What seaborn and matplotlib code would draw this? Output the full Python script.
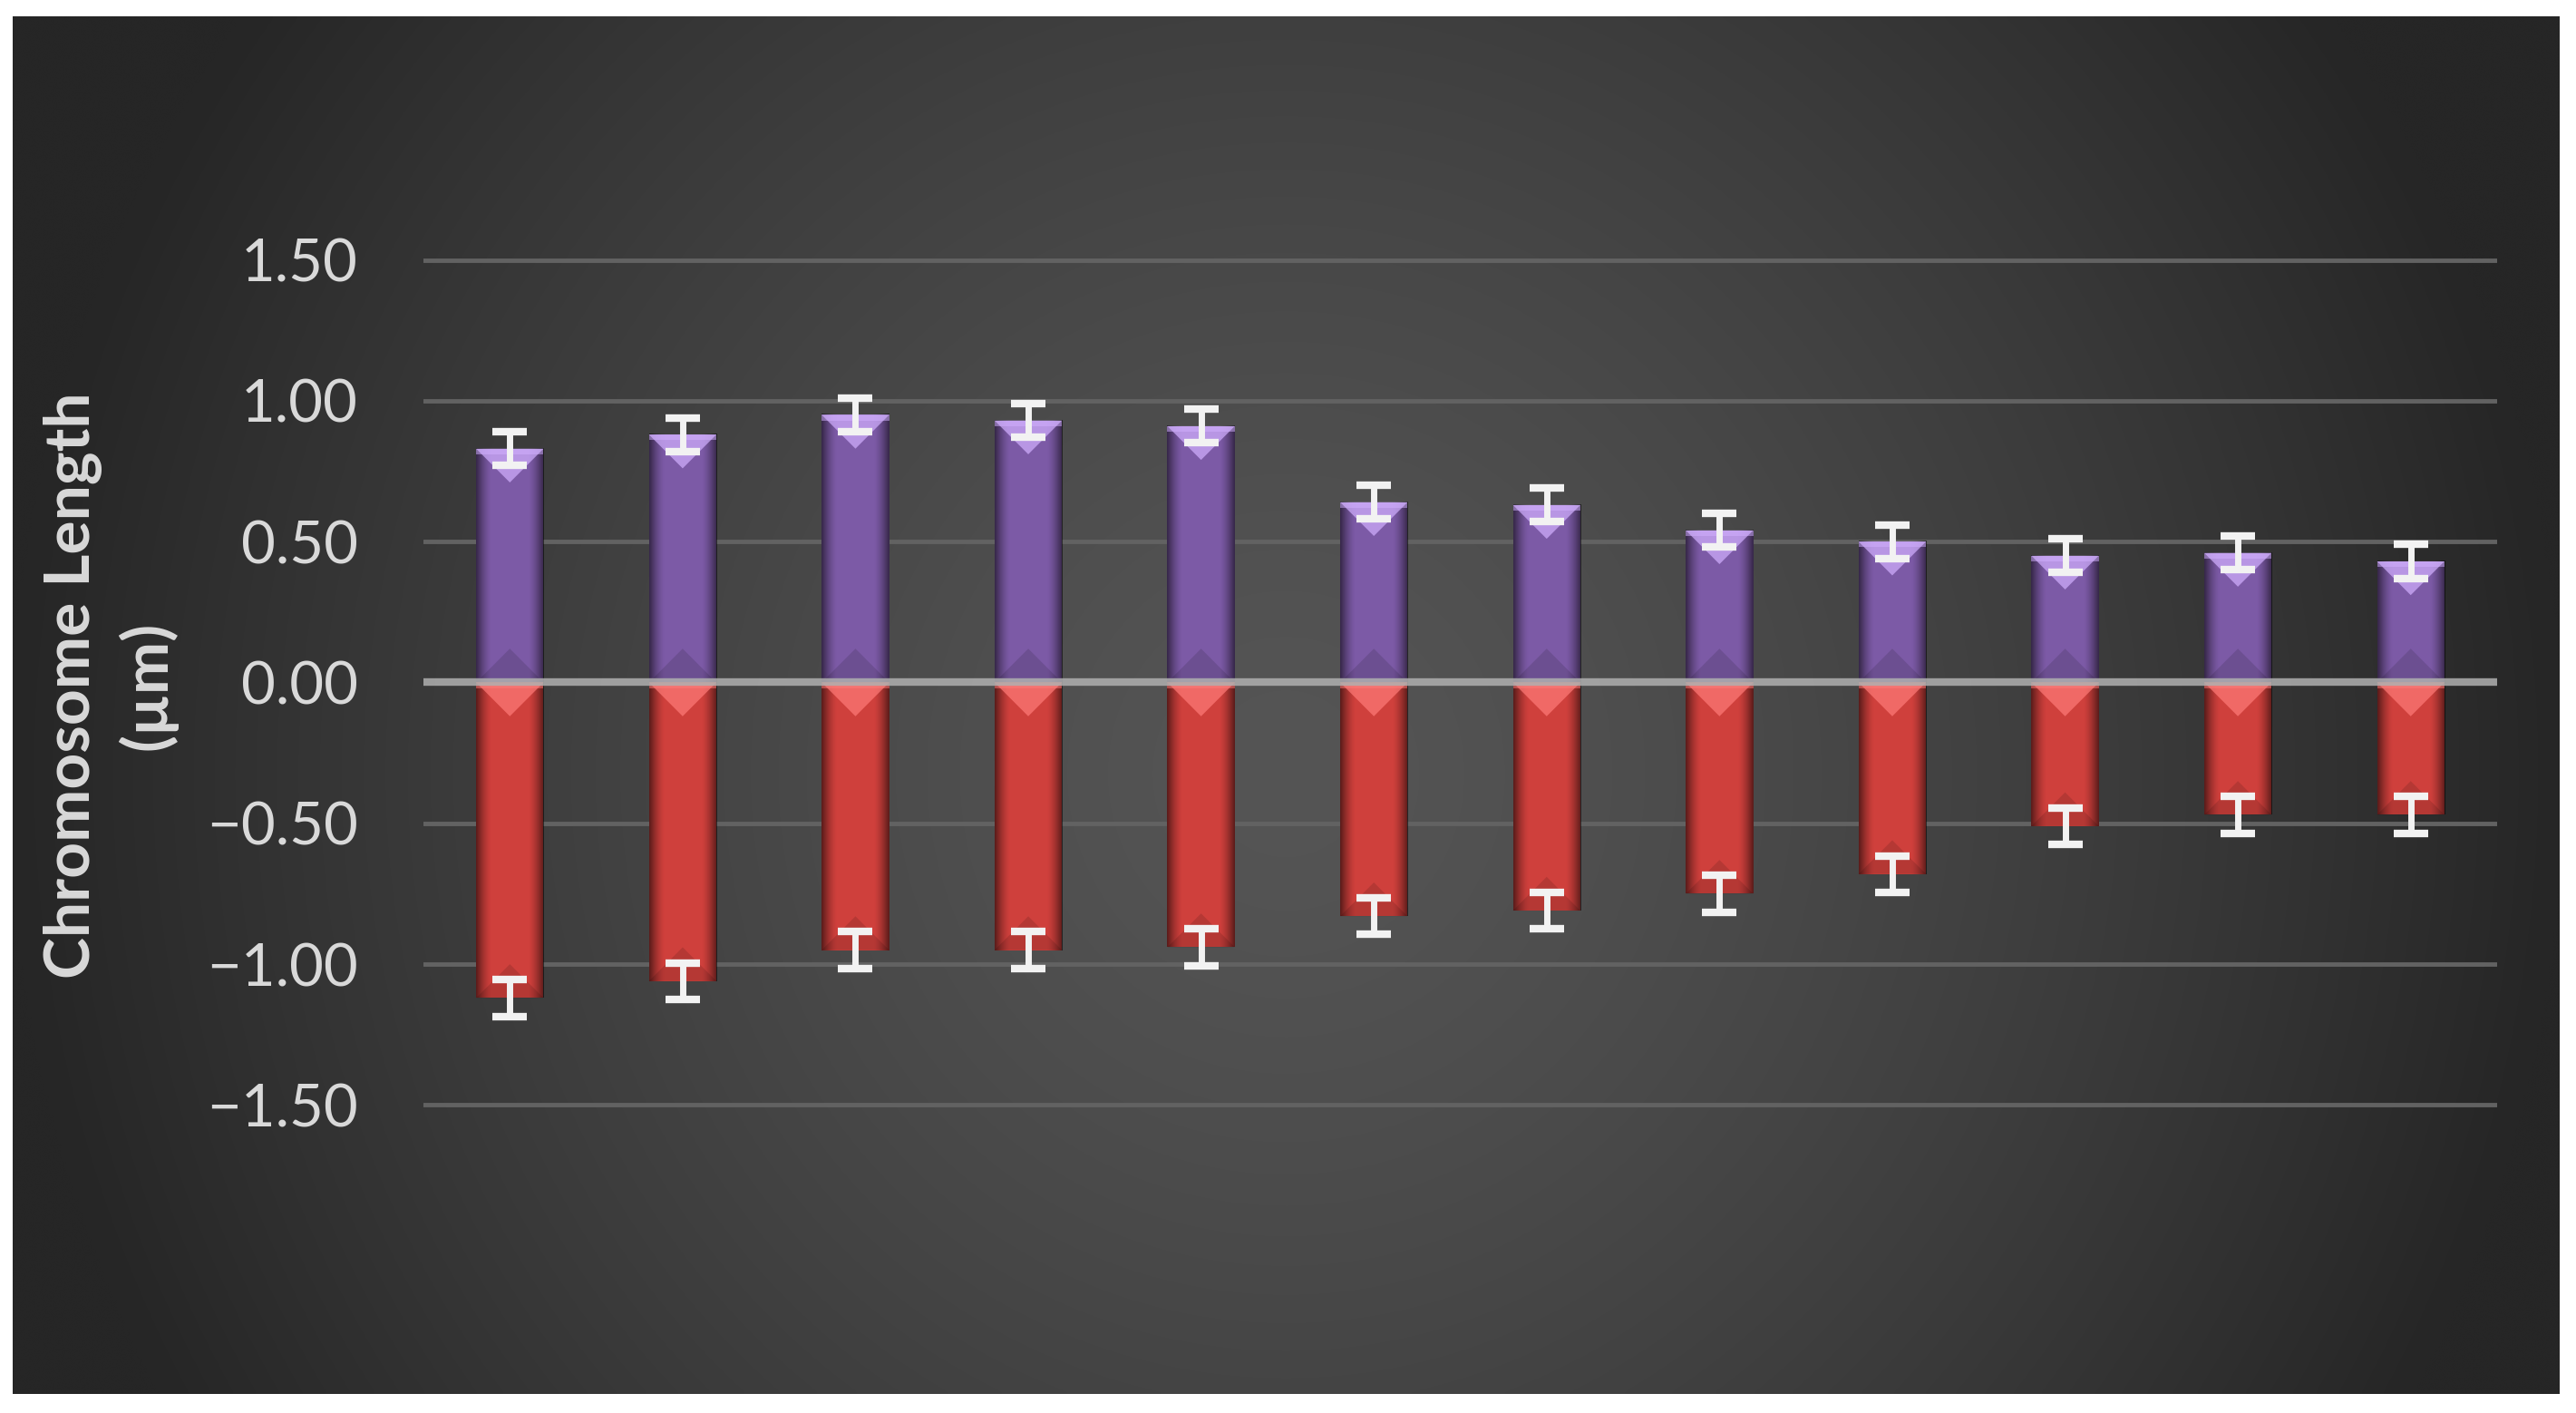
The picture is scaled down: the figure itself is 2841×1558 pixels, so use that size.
"""
plot.py — chromosome arm lengths (purple = long arm, red = short arm) with SD bars.
"""

import numpy as np
import pandas as pd
import matplotlib
matplotlib.use("Agg")
import matplotlib.pyplot as plt
from matplotlib.patches import Polygon
from matplotlib.ticker import FuncFormatter
import seaborn as sns


# ── Data ─────────────────────────────────────────────────────────────────────
CHROMOSOMES = [str(i) for i in range(1, 13)]
LONG_ARM    = [0.83, 0.88, 0.95, 0.93, 0.91, 0.64, 0.63, 0.54, 0.50, 0.45, 0.46, 0.43]
LONG_ERR    = [0.06, 0.06, 0.06, 0.06, 0.06, 0.06, 0.06, 0.06, 0.06, 0.06, 0.06, 0.06]
SHORT_ARM   = [-1.12, -1.06, -0.95, -0.95, -0.94, -0.83, -0.81, -0.75, -0.68, -0.51, -0.47, -0.47]
SHORT_ERR   = [0.065, 0.065, 0.065, 0.065, 0.065, 0.065, 0.065, 0.065, 0.065, 0.065, 0.065, 0.065]
Y_TICKS     = [-1.5, -1.0, -0.5, 0.0, 0.5, 1.0, 1.5]

# ── Style ────────────────────────────────────────────────────────────────────
W_PX, H_PX, DPI = 2841, 1558, 100
PURPLE      = "#7c5aa6"
PURPLE_HI   = "#d2b0ff"
RED         = "#cf403c"
RED_HI      = "#ff7b78"
TEXT_COL    = "#d9d9d9"
GRID_COL    = "#626262"
ZERO_COL    = "#b0b0b0"
ERR_COL     = "#f2f2f2"
BAR_WIDTH   = 0.39

sns.set_theme(style="dark")
plt.rcParams["font.family"] = ["Lato", "DejaVu Sans"]

fig = plt.figure(figsize=(W_PX / DPI, H_PX / DPI), dpi=DPI, facecolor="white")

# ── Dark gradient panel ──────────────────────────────────────────────────────
bg = fig.add_axes([14 / W_PX, 1 - 1537 / H_PX, (2823 - 14) / W_PX, (1537 - 18) / H_PX])
gx, gy = np.meshgrid(np.linspace(-1, 1, 600), np.linspace(-1, 1, 330))
r = np.sqrt((gx / 1.0) ** 2 + ((gy - 0.1) / 1.9) ** 2)
shade = np.clip(r, 0, 1) ** 1.4
lo, hi = np.array([0x26, 0x26, 0x26]) / 255, np.array([0x55, 0x55, 0x55]) / 255
img = hi[None, None, :] * (1 - shade[..., None]) + lo[None, None, :] * shade[..., None]
bg.imshow(img, aspect="auto", extent=(0, 1, 0, 1), interpolation="bicubic")
bg.set_axis_off()

# ── Chart axes ───────────────────────────────────────────────────────────────
y_lo, y_hi = -2.0, 2.0
px_per_unit = 155.3 / 0.5
ax_h = (y_hi - y_lo) * px_per_unit
ax_bottom = H_PX - (752.5 + (-y_lo) * px_per_unit)
ax = fig.add_axes([467 / W_PX, ax_bottom / H_PX, (2754 - 467) / W_PX, ax_h / H_PX])
ax.patch.set_alpha(0)

df = pd.DataFrame({"chrom": CHROMOSOMES, "long": LONG_ARM, "short": SHORT_ARM})
sns.barplot(data=df, x="chrom", y="long", color=PURPLE, width=BAR_WIDTH,
            saturation=1, ax=ax, zorder=2, linewidth=0)
sns.barplot(data=df, x="chrom", y="short", color=RED, width=BAR_WIDTH,
            saturation=1, ax=ax, zorder=2, linewidth=0)

# bevel look: horizontal shading plus a light wedge on the upper end of each bar
for p in ax.patches:
    x0, y0 = p.get_x(), p.get_y()
    w, h = p.get_width(), p.get_height()
    top, bot = max(y0, y0 + h), min(y0, y0 + h)
    t = np.linspace(-1, 1, 60)
    alpha = np.clip((np.abs(t) - 0.55) / 0.45, 0, 1) ** 1.5 * 0.55
    shade_img = np.zeros((1, 60, 4))
    shade_img[..., 3] = alpha
    ax.imshow(shade_img, extent=(x0, x0 + w, bot, top), aspect="auto",
              zorder=3, interpolation="bilinear")
    hi_col = PURPLE_HI if top > 0.001 else RED_HI
    depth = min(0.12, (top - bot) * 0.5)
    ax.add_patch(Polygon([(x0, top), (x0 + w, top), (x0 + w / 2, top - depth)],
                         closed=True, facecolor=hi_col, alpha=0.7,
                         edgecolor="none", zorder=4))
    ax.add_patch(Polygon([(x0, top), (x0 + w, top), (x0 + w, top - 0.02), (x0, top - 0.02)],
                         closed=True, facecolor=hi_col, alpha=0.5,
                         edgecolor="none", zorder=4))
    ax.add_patch(Polygon([(x0, bot), (x0 + w, bot), (x0 + w / 2, bot + depth)],
                         closed=True, facecolor="black", alpha=0.12,
                         edgecolor="none", zorder=4))

xs = np.arange(len(CHROMOSOMES))
ax.errorbar(xs, LONG_ARM, yerr=LONG_ERR, fmt="none", ecolor=ERR_COL,
            elinewidth=5, capsize=13.5, capthick=6, zorder=6)
ax.errorbar(xs, SHORT_ARM, yerr=SHORT_ERR, fmt="none", ecolor=ERR_COL,
            elinewidth=5, capsize=13.5, capthick=6, zorder=6)

for v in Y_TICKS:
    if v != 0:
        ax.axhline(v, color=GRID_COL, lw=3.5, zorder=1)
ax.axhline(0, color=ZERO_COL, lw=6, alpha=0.85, zorder=5)

ax.set_ylim(y_lo, y_hi)
ax.set_xlim(-0.5, len(CHROMOSOMES) - 0.5)
ax.set_yticks(Y_TICKS)
ax.yaxis.set_major_formatter(FuncFormatter(lambda v, _: f"{v:.2f}".replace("-", "\u2212")))
ax.tick_params(axis="y", length=0, pad=52, labelsize=47, labelcolor=TEXT_COL)
ax.set_xticks([])
ax.set_xlabel("")
ax.set_ylabel("")
ax.grid(False)
for s in ax.spines.values():
    s.set_visible(False)

fig.text(122 / W_PX, 1 - 756 / H_PX, "Chromosome Length\n(\u00b5m)", rotation=90,
         ha="center", va="center", fontsize=50, fontweight="bold",
         color=TEXT_COL, linespacing=1.3, multialignment="center")

fig.savefig("out.png", dpi=DPI, facecolor="white")
